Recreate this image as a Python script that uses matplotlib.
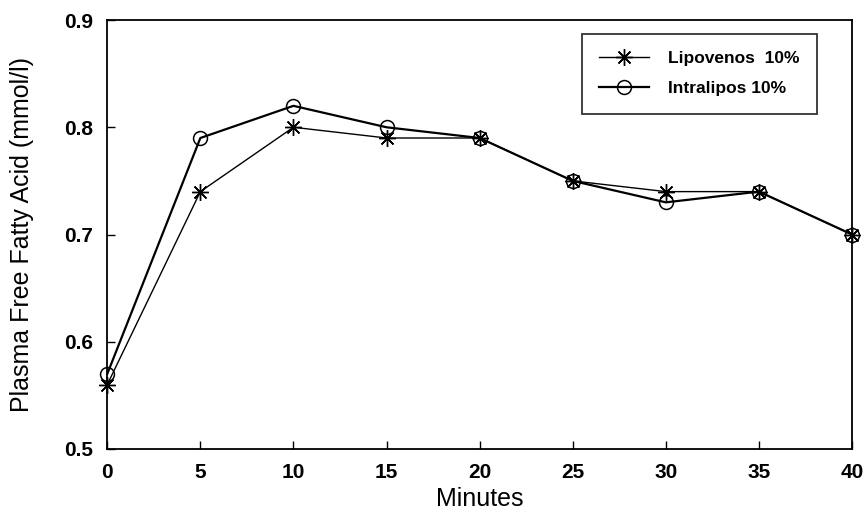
import matplotlib
matplotlib.use('Agg')
import matplotlib.pyplot as plt

# Datos
minutos = [0, 5, 10, 15, 20, 25, 30, 35, 40]
lipovenos = [0.56, 0.74, 0.80, 0.79, 0.79, 0.75, 0.74, 0.74, 0.70]
intralipos = [0.57, 0.79, 0.82, 0.80, 0.79, 0.75, 0.73, 0.74, 0.70]
xticks = [0, 5, 10, 15, 20, 25, 30, 35, 40]
yticks = [0.5, 0.6, 0.7, 0.8, 0.9]

plt.rcParams['font.family'] = ['Liberation Sans', 'DejaVu Sans']

fig = plt.figure(figsize=(8.65, 5.14), dpi=100)
ax = fig.add_axes([0.124, 0.1265, 0.861, 0.8345])

ax.plot(minutos, lipovenos, color='black', lw=1.0, marker=(8, 2, 0),
        markersize=12, markeredgewidth=1.0, label='Lipovenos  10%', clip_on=False)
ax.plot(minutos, intralipos, color='black', lw=1.6, marker='o',
        markersize=10, markerfacecolor='none', markeredgewidth=1.1,
        label='Intralipos 10%', clip_on=False)

ax.set_xlim(0, 40)
ax.set_ylim(0.5, 0.9)
ax.set_xticks(xticks)
ax.set_yticks(yticks)
ax.set_yticklabels([f'{v:.1f}' for v in yticks])
ax.tick_params(direction='in', length=6, width=1, labelsize=15, pad=10)
for lab in ax.get_xticklabels() + ax.get_yticklabels():
    lab.set_fontweight('bold')
for sp in ax.spines.values():
    sp.set_linewidth(1.3)

ax.set_xlabel('Minutes', fontsize=18, labelpad=4)
ax.set_ylabel('Plasma Free Fatty Acid (mmol/l)', fontsize=18, labelpad=22)

leg = ax.legend(loc='upper right', bbox_to_anchor=(0.965, 0.988),
                frameon=True, fancybox=False, edgecolor='black',
                prop={'weight': 'bold', 'size': 12.5}, handlelength=2.9,
                borderpad=1.0, labelspacing=0.85, handletextpad=1.1)
leg.get_frame().set_linewidth(1.3)

fig.savefig('out.png', dpi=100)
